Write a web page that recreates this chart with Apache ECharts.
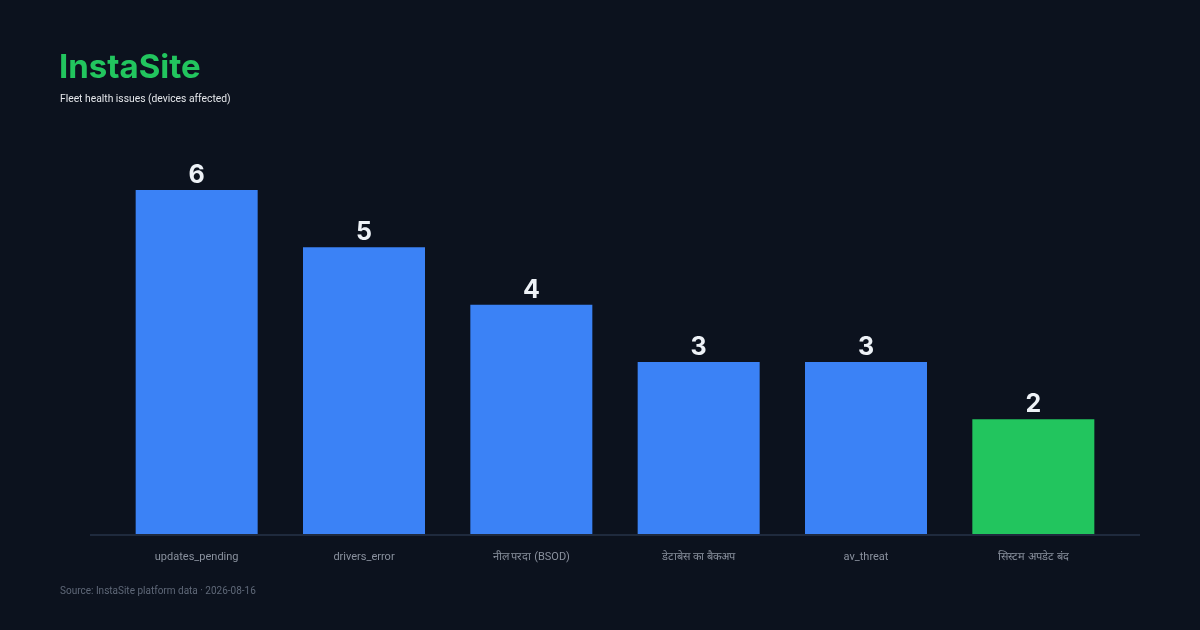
<!DOCTYPE html>
<html><head><meta charset="utf-8">
<script src="https://cdn.jsdelivr.net/npm/echarts@6/dist/echarts.min.js"></script>
<style>html,body{margin:0;padding:0;background:#0c121e;}#c{width:1200px;height:630px;}</style>
</head><body><div id="c"></div>
<script>
const categories = ['updates_pending', 'drivers_error', 'नील परदा (BSOD)', 'डेटाबेस का बैकअप', 'av_threat', 'सिस्टम अपडेट बंद'];
const values = [6, 5, 4, 3, 3, 2];
const highlightIndex = 5;
const titleText = 'InstaSite';
const subtitleText = 'Fleet health issues (devices affected)';
const sourceText = 'Source: InstaSite platform data · 2026-08-16';

const chart = echarts.init(document.getElementById('c'), null, {renderer: 'canvas'});
chart.setOption({
  backgroundColor: '#0c121e',
  animation: false,
  title: [
    {text: titleText, left: 59, top: 52, padding: 0, textStyle: {color: '#22c55e', fontSize: 33, fontWeight: 'bold', fontFamily: 'Inter'}},
    {text: subtitleText, left: 60, top: 94, padding: 0, textStyle: {color: '#e5e7eb', fontSize: 10.3, fontWeight: 'normal', fontFamily: 'Roboto'}},
    {text: sourceText, left: 60, top: 586, padding: 0, textStyle: {color: '#5f6878', fontSize: 10, fontWeight: 'normal', fontFamily: 'Roboto'}}
  ],
  grid: {left: 113, right: 83, top: 190, bottom: 96},
  xAxis: {
    type: 'category', data: categories,
    axisLine: {show: false}, axisTick: {show: false},
    axisLabel: {color: '#8a919e', fontSize: 11, margin: 18, fontFamily: 'Roboto', interval: 0}
  },
  yAxis: {type: 'value', min: 0, max: 6, show: false, splitLine: {show: false}},
  series: [{
    type: 'bar', barWidth: 122,
    data: values.map((v, i) => ({value: v, itemStyle: {color: i === highlightIndex ? '#22c55e' : '#3b82f6'}})),
    label: {show: true, position: 'top', distance: 2, color: '#eef2f7', fontSize: 25, fontWeight: 'bold', fontFamily: 'Inter'}
  }],
  graphic: [{
    type: 'line', shape: {x1: 90, y1: 535, x2: 1140, y2: 535},
    style: {stroke: '#1f2a3d', lineWidth: 2}, z: 10
  }]
});
</script></body></html>
